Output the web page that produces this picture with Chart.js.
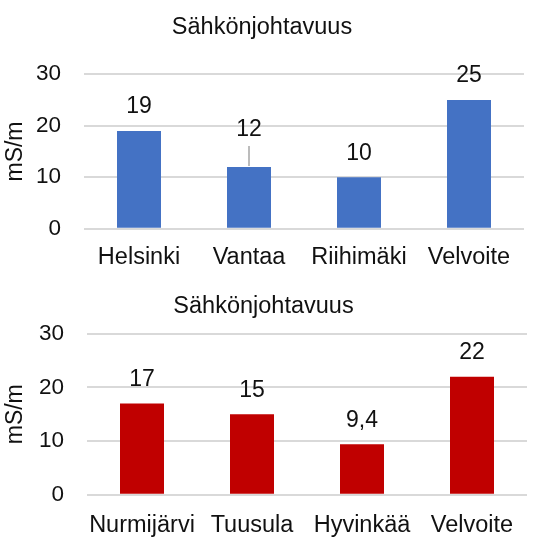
<!DOCTYPE html>
<html>
<head>
<meta charset="utf-8">
<script src="https://cdn.jsdelivr.net/npm/chart.js@4.4.1/dist/chart.umd.min.js"></script>
<style>
  html, body { margin: 0; padding: 0; background: #fff; overflow: hidden; }
  .box { position: absolute; left: 0; width: 533px; }
  #top { top: 0; height: 292px; }
  #bottom { top: 280px; height: 283px; }
</style>
</head>
<body>
<div class="box" id="top"><canvas id="chartTop"></canvas></div>
<div class="box" id="bottom"><canvas id="chartBottom"></canvas></div>
<script>
const chartTitle = "Sähkönjohtavuus";
const axisTitle = "mS/m";
const yTicks = [0, 10, 20, 30];

const topCities = ["Helsinki", "Vantaa", "Riihimäki", "Velvoite"];
const topValues = [19, 12, 10, 25];

const bottomCities = ["Nurmijärvi", "Tuusula", "Hyvinkää", "Velvoite"];
const bottomValues = [17, 15, 9.4, 22];

const FONT = "'Liberation Sans', Arial, sans-serif";
const TEXT = "#111";

// value labels above bars, with an optional leader line when the label is lifted
const barLabels = {
  id: "barLabels",
  afterDatasetsDraw(chart, args, opts) {
    const ctx = chart.ctx;
    const meta = chart.getDatasetMeta(0);
    const values = chart.data.datasets[0].data;
    ctx.save();
    ctx.font = "23px " + FONT;
    ctx.fillStyle = TEXT;
    ctx.textAlign = "center";
    ctx.textBaseline = "middle";
    meta.data.forEach((bar, i) => {
      const lift = (opts.lift && opts.lift[i]) || 0;
      const y = bar.y - 24 - lift;
      ctx.fillText(String(values[i]).replace(".", ","), bar.x, y);
      if (lift) {
        ctx.strokeStyle = "#a6a6a6";
        ctx.lineWidth = 1.5;
        ctx.beginPath();
        ctx.moveTo(bar.x, y + 16);
        ctx.lineTo(bar.x, bar.y - 1);
        ctx.stroke();
      }
    });
    ctx.restore();
  },
};

function makeChart(id, labels, values, color, opt) {
  return new Chart(document.getElementById(id), {
    type: "bar",
    data: {
      labels,
      datasets: [
        {
          data: values,
          backgroundColor: color,
          categoryPercentage: 1,
          barPercentage: 0.4,
        },
      ],
    },
    plugins: [barLabels],
    options: {
      responsive: true,
      maintainAspectRatio: false,
      animation: false,
      layout: { padding: { left: 0, right: opt.padRight, top: 0, bottom: opt.padBottom } },
      plugins: {
        legend: { display: false },
        tooltip: { enabled: false },
        title: {
          display: true,
          text: chartTitle,
          color: TEXT,
          font: { family: FONT, size: 23.5, weight: "normal", lineHeight: 1.2 },
          padding: { top: opt.titleTop, bottom: opt.titleBottom },
        },
        barLabels: { lift: opt.lift || {} },
      },
      scales: {
        x: {
          grid: { display: false, drawTicks: false },
          border: { display: false },
          ticks: {
            color: TEXT,
            padding: opt.labelPad,
            font: { family: FONT, size: 23.5 },
            maxRotation: 0,
            autoSkip: false,
          },
        },
        y: {
          min: 0,
          max: 30,
          afterBuildTicks: (scale) => {
            scale.ticks = yTicks.map((v) => ({ value: v }));
          },
          afterFit: (scale) => {
            scale.width = opt.axisWidth;
          },
          grid: { color: "#d9d9d9", lineWidth: 2, drawTicks: false },
          border: { display: false },
          ticks: {
            color: TEXT,
            padding: 23,
            font: { family: FONT, size: 22.5 },
          },
          title: {
            display: true,
            text: axisTitle,
            color: TEXT,
            font: { family: FONT, size: 23 },
            padding: { top: 2, bottom: 0 },
          },
        },
      },
    },
  });
}

makeChart("chartTop", topCities, topValues, "#4472C4", {
  padBottom: 5,
  padRight: 9,
  titleTop: 13,
  titleBottom: 33,
  labelPad: 15,
  axisWidth: 84,
  lift: { 1: 13 },
});

makeChart("chartBottom", bottomCities, bottomValues, "#C00000", {
  padBottom: 6,
  padRight: 6,
  titleTop: 12,
  titleBottom: 13.5,
  labelPad: 17,
  axisWidth: 87,
});
</script>
</body>
</html>
